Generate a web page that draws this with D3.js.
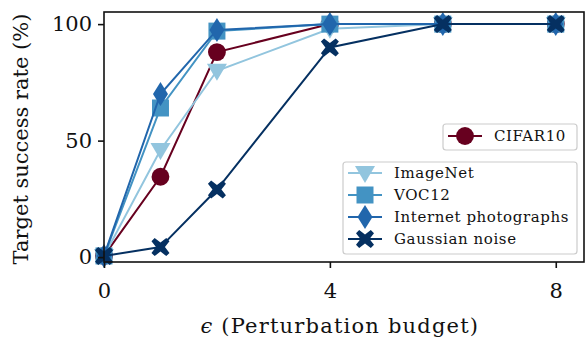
<!DOCTYPE html>
<html>
<head>
<meta charset="utf-8">
<script src="https://cdn.jsdelivr.net/npm/d3@7"></script>
<style>
body{margin:0;background:#fff;}
</style>
</head>
<body>
<div id="box"></div>
<script>
var eps=[0,1,2,4,6,8];
var cifar10=[0.5,34.5,88,100,100,100];
var imagenet=[0.5,46,80,98,100,100];
var voc12=[0.5,64,97,100,100,100];
var internet=[0.5,70,97.5,100,100,100];
var gaussian=[0.5,4.3,29,90,100,100];
var xticks=[0,4,8];
var yticks=[0,50,100];

var series=[
 {name:"CIFAR10",vals:cifar10,color:"#67001f",shape:"circle"},
 {name:"ImageNet",vals:imagenet,color:"#92c5de",shape:"tri"},
 {name:"VOC12",vals:voc12,color:"#4393c3",shape:"square"},
 {name:"Internet photographs",vals:internet,color:"#2166ac",shape:"diamond"},
 {name:"Gaussian noise",vals:gaussian,color:"#053061",shape:"x"}
];

var FONT="'DejaVu Serif', 'Liberation Serif', serif";
var W=585,H=337;
var margin={top:12,right:1,bottom:75,left:104};
var pw=W-margin.left-margin.right, ph=H-margin.top-margin.bottom;

var svg=d3.select("#box").append("svg").attr("width",W).attr("height",H);
var g=svg.append("g").attr("transform","translate("+margin.left+","+margin.top+")");

var x=d3.scaleLinear().domain([0,8.5]).range([0,pw]);
var y=d3.scaleLinear().domain([-2.1,105.2]).range([ph,0]);

function markerPath(shape){
  if(shape=="circle") return d3.symbol().type(d3.symbolCircle).size(250)();
  if(shape=="square") return "M-8.5,-8.5H8.5V8.5H-8.5Z";
  if(shape=="tri") return "M-10,-7H10L0,10Z";
  if(shape=="diamond") return "M0,-12L7.5,0L0,12L-7.5,0Z";
  if(shape=="x"){
    var a=3.2,b=9;
    return "M"+(-b)+","+(-b+a)+"L"+(-b+a)+","+(-b)+"L0,"+(-a*1.4)+"L"+(b-a)+","+(-b)+"L"+b+","+(-b+a)+"L"+(a*1.4)+",0L"+b+","+(b-a)+"L"+(b-a)+","+b+"L0,"+(a*1.4)+"L"+(-b+a)+","+b+"L"+(-b)+","+(b-a)+"L"+(-a*1.4)+",0Z";
  }
}

var line=d3.line().x(function(d,i){return x(eps[i]);}).y(function(d){return y(d);});
var plot=g.append("g");
series.forEach(function(s){
  var sg=plot.append("g");
  sg.append("path").datum(s.vals).attr("d",line).attr("fill","none")
    .attr("stroke",s.color).attr("stroke-width",2);
  sg.selectAll("path.m").data(s.vals).enter().append("path").attr("class","m")
    .attr("d",markerPath(s.shape))
    .attr("transform",function(d,i){return "translate("+x(eps[i])+","+y(d)+")";})
    .attr("fill",s.color);
});

// frame
g.append("rect").attr("x",0).attr("y",0).attr("width",pw).attr("height",ph)
  .attr("fill","none").attr("stroke","#111").attr("stroke-width",1.6);

var xAxis=d3.axisBottom(x).tickValues(xticks).tickSize(6).tickPadding(15).tickFormat(d3.format("d"));
var yAxis=d3.axisLeft(y).tickValues(yticks).tickSize(6).tickPadding(6).tickFormat(d3.format("d"));
var gx=g.append("g").attr("transform","translate(0,"+ph+")").call(xAxis);
var gy=g.append("g").call(yAxis);
[gx,gy].forEach(function(a){
  a.attr("font-family",FONT);
  a.select(".domain").remove();
  a.selectAll(".tick line").attr("stroke","#111").attr("stroke-width",1.6);
  a.selectAll(".tick text").style("font-family",FONT).style("font-size","21px").attr("fill","#111");
});

svg.append("text").attr("transform","translate(28,"+(margin.top+ph/2+2)+") rotate(-90)")
  .attr("text-anchor","middle").style("font-family",FONT).style("font-size","21px").attr("fill","#111")
  .text("Target success rate (%)");
svg.append("text").attr("x",margin.left+x(4)+10).attr("y",333).attr("text-anchor","middle")
  .style("font-family",FONT).style("font-size","21px").style("letter-spacing","1.2px").attr("fill","#111")
  .html("<tspan font-style='italic'>ϵ</tspan> (Perturbation budget)");

// legends
function legend(items,bx,by,bw,bh,rowY,mx,tx){
  var lg=svg.append("g");
  lg.append("rect").attr("x",bx).attr("y",by).attr("width",bw).attr("height",bh)
    .attr("rx",3).attr("fill","rgba(255,255,255,0.8)").attr("stroke","#ccc").attr("stroke-width",1.2);
  items.forEach(function(s,i){
    var yy=rowY[i];
    lg.append("line").attr("x1",mx-17).attr("x2",mx+17).attr("y1",yy).attr("y2",yy)
      .attr("stroke",s.color).attr("stroke-width",2);
    lg.append("path").attr("d",markerPath(s.shape)).attr("transform","translate("+mx+","+yy+")").attr("fill",s.color);
    lg.append("text").attr("x",tx).attr("y",yy).attr("dy","0.35em")
      .style("font-family",FONT).style("font-size","15px").style("letter-spacing","0.6px")
      .attr("fill","#111").text(s.name);
  });
}
legend([series[0]],443,124,134,26,[136],465,494);
legend(series.slice(1),343,162,234,92,[173,195,217,239],365,394);
</script>
</body>
</html>
